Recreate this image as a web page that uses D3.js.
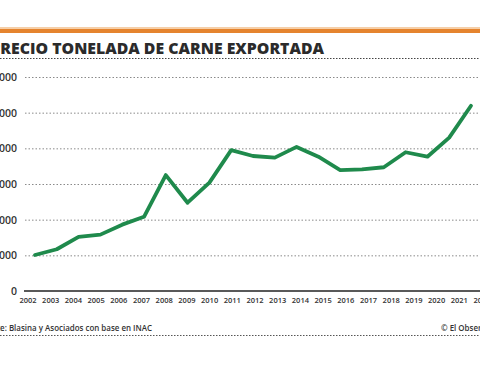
<!DOCTYPE html>
<html><head><meta charset="utf-8">
<script src="https://cdn.jsdelivr.net/npm/d3@7"></script>
<style>html,body{margin:0;padding:0;background:#fff;overflow:hidden}svg{display:block}</style>
</head><body>
<script>
const years = ["2002","2003","2004","2005","2006","2007","2008","2009","2010","2011","2012","2013","2014","2015","2016","2017","2018","2019","2020","2021","2022"];
const prices = [1010,1170,1520,1580,1860,2080,3250,2475,3040,3950,3785,3740,4040,3765,3390,3410,3470,3890,3765,4300,5195];
const yTicks = [0,1000,2000,3000,4000,5000,6000];
const title = "PRECIO TONELADA DE CARNE EXPORTADA";
const source = "Fuente: Blasina y Asociados con base en INAC";
const credit = "© El Observador";

const W = 480, H = 365;
const svg = d3.select("body").append("svg").attr("width", W).attr("height", H);
const font = "'Open Sans', sans-serif";

// size a font so that the visible tail of a text has a given width
function fitSize(str, weight, target) {
  const m = svg.append("text").attr("font-family",font).attr("font-weight",weight).attr("font-size",20).text(str);
  const w = m.node().getComputedTextLength();
  m.remove();
  return 20 * target / w;
}

svg.append("rect").attr("x",0).attr("y",27).attr("width",W).attr("height",2).attr("fill","#f6cfa8");
svg.append("rect").attr("x",0).attr("y",29).attr("width",W).attr("height",4).attr("fill","#e5842e");

const tfs = fitSize(title.slice(1), 800, 324);
svg.append("text").attr("x",324).attr("y",54).attr("text-anchor","end").attr("font-family",font).attr("font-weight",800)
  .attr("font-size",tfs).attr("fill","#2b2b2b").text(title);
svg.append("line").attr("x1",0).attr("x2",W).attr("y1",58.5).attr("y2",58.5)
  .attr("stroke","#444").attr("stroke-width",1).attr("stroke-dasharray","1.5,1.5");

const y = d3.scaleLinear().domain([0,6000]).range([291,77]);
const xLine = d3.scalePoint().domain(years).range([35,471]);
const xLab = d3.scalePoint().domain(years).range([27.5,481.5]);

// grid
const gridAxis = d3.axisLeft(y).tickValues(yTicks.filter(d=>d>0)).tickSize(-(W-25)).tickFormat("");
const gg = svg.append("g").attr("transform","translate(25,0)").call(gridAxis);
gg.select(".domain").remove();
gg.selectAll("line").attr("stroke","#8a8a8a").attr("stroke-width",1).attr("stroke-dasharray","1.5,2");

// y labels
const yl = svg.append("g").attr("transform","translate(17,0)")
  .call(d3.axisLeft(y).tickValues(yTicks).tickSize(0).tickPadding(0).tickFormat(d=>d===0?"0":String(d)));
yl.select(".domain").remove();
yl.selectAll("text").attr("font-family",font).attr("font-size",10.5).attr("font-weight",600).attr("fill","#333");

// baseline
svg.append("line").attr("x1",24).attr("x2",W).attr("y1",y(0)).attr("y2",y(0)).attr("stroke","#222").attr("stroke-width",1.6);

// x labels
const xl = svg.append("g").attr("transform","translate(0,298)")
  .call(d3.axisBottom(xLab).tickSize(0).tickPadding(0));
xl.select(".domain").remove();
xl.selectAll("text").attr("font-family",font).attr("font-size",7.5).attr("font-weight",600).attr("fill","#333");

// line
const line = d3.line().x((d,i)=>xLine(years[i])).y(d=>y(d));
svg.append("path").datum(prices).attr("d",line).attr("fill","none")
  .attr("stroke","#1f8a4c").attr("stroke-width",3.8).attr("stroke-linejoin","round").attr("stroke-linecap","round");

// footer
const sfs = fitSize(source.slice(5), 600, 152);
svg.append("text").attr("x",152).attr("y",331).attr("text-anchor","end").attr("font-family",font).attr("font-size",sfs).attr("font-weight",600)
  .attr("fill","#333").text(source);
svg.append("text").attr("x",441).attr("y",331).attr("font-family",font).attr("font-size",sfs).attr("font-weight",600)
  .attr("fill","#333").text(credit);
svg.append("line").attr("x1",0).attr("x2",W).attr("y1",335.5).attr("y2",335.5)
  .attr("stroke","#555").attr("stroke-width",1).attr("stroke-dasharray","1.5,1.5");
</script>
</body></html>
